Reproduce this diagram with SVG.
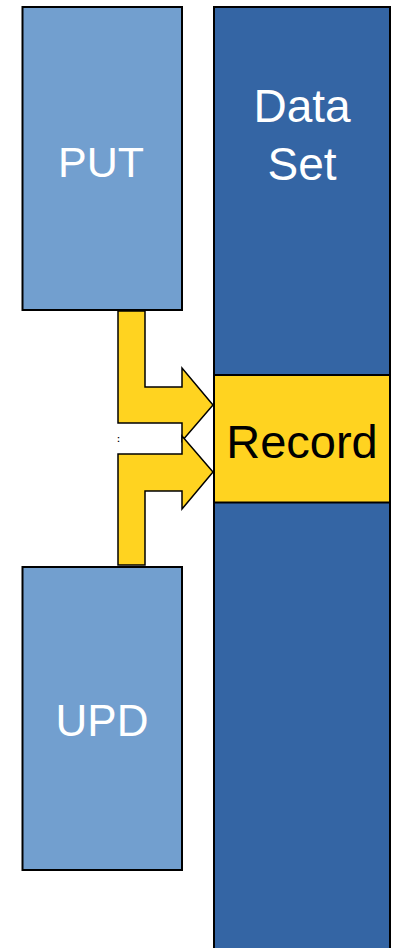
<svg xmlns="http://www.w3.org/2000/svg" width="395" height="948" viewBox="0 0 395 948">
<style>
.box{stroke:#000;stroke-width:2}
.light{fill:#729fcf}
.dark{fill:#3465a4}
.yel{fill:#ffd320}
.arrow{fill:#ffd320;stroke:#000;stroke-width:1.5;stroke-linejoin:miter}
text{font-family:"Liberation Sans",Arial,sans-serif;text-anchor:middle}
.w{fill:#fff}
</style>
<rect width="395" height="948" fill="#fff"/>
<g id="dataset">
<rect class="box dark" x="214" y="7" width="176" height="950"/>
<text class="w" x="302" y="122" font-size="46">Data</text>
<text class="w" x="302" y="180" font-size="46">Set</text>
</g>
<g id="put">
<rect class="box light" x="22.5" y="7" width="159.5" height="303"/>
<text class="w" x="101" y="177" font-size="43">PUT</text>
</g>
<g id="upd">
<rect class="box light" x="22.5" y="567" width="159.5" height="303"/>
<text class="w" x="102" y="736" font-size="44">UPD</text>
</g>
<g id="connectors">
<path class="arrow" d="M118,311 L145,311 L145,387 L182,387 L182,368 L213,405 L182,441 L182,423 L118,423 Z"/>
<path class="arrow" d="M118,565 L145,565 L145,491 L182,491 L182,509 L213,472 L182,436 L182,454 L118,454 Z"/>
</g>
<g id="record">
<rect class="box yel" x="214" y="375" width="176" height="127.5"/>
<text x="302" y="458" font-size="47" fill="#000">Record</text>
</g>
<text x="118.5" y="442" font-size="9" font-weight="bold" fill="#000">:</text>
</svg>
